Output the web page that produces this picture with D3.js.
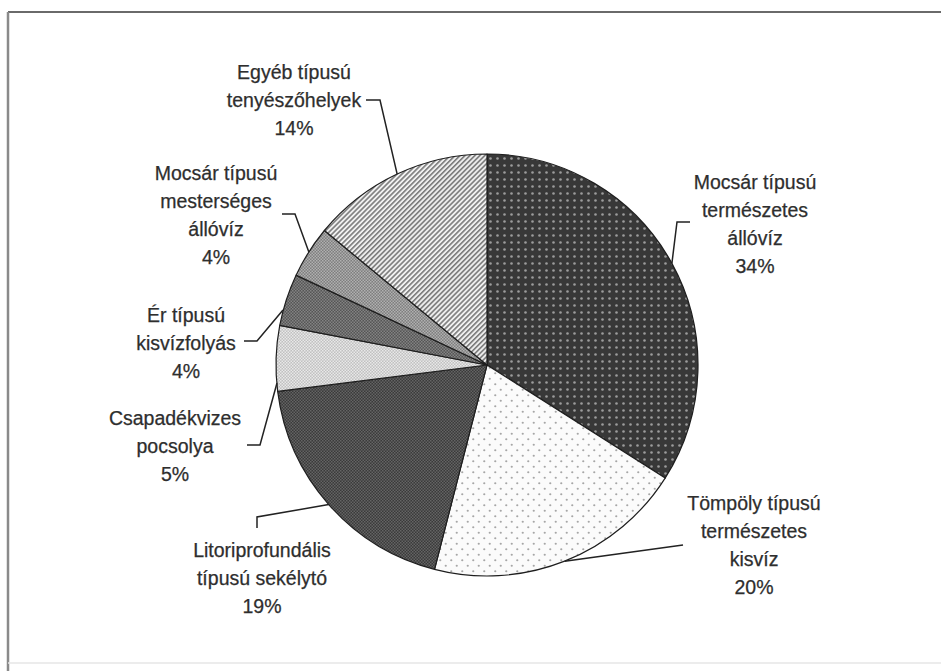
<!DOCTYPE html>
<html><head><meta charset="utf-8">
<script src="https://cdn.jsdelivr.net/npm/d3@7"></script>
<style>html,body{margin:0;padding:0;background:#fff;}svg{display:block;}</style>
</head><body>
<svg id="c" width="941" height="671"></svg>
<script>
// Data
const categories = [
  "Mocsár típusú természetes állóvíz",
  "Tömpöly típusú természetes kisvíz",
  "Litoriprofundális típusú sekélytó",
  "Csapadékvizes pocsolya",
  "Ér típusú kisvízfolyás",
  "Mocsár típusú mesterséges állóvíz",
  "Egyéb típusú tenyészőhelyek"
];
const values = [34, 20, 19, 5, 4, 4, 14];
const labelLines = [
  ["Mocsár típusú", "természetes", "állóvíz"],
  ["Tömpöly típusú", "természetes", "kisvíz"],
  ["Litoriprofundális", "típusú sekélytó"],
  ["Csapadékvizes", "pocsolya"],
  ["Ér típusú", "kisvízfolyás"],
  ["Mocsár típusú", "mesterséges", "állóvíz"],
  ["Egyéb típusú", "tenyészőhelyek"]
];

// Layout (first-line baselines)
const cx = 487, cy = 365, R = 211;
const labelPos = [
  {x: 755, y: 189}, {x: 754, y: 510}, {x: 262, y: 557}, {x: 175, y: 425},
  {x: 186, y: 322}, {x: 216, y: 180}, {x: 294, y: 79}
];
const lineH = 28;
const leaders = [
  [[690, 222], [677, 222]],
  [[683, 545]],
  [[257, 528], [257, 517]],
  [[247, 445], [260, 445]],
  [[244, 341], [257, 341]],
  [[282, 214], [295, 214]],
  [[366, 100], [380, 100]]
];
const leaderEnd = [null, null, null, [277, 383], [283, 310], null, null];

const svg = d3.select("#c");
const defs = svg.append("defs");

function checker(id, bg, fg, s) {
  const p = defs.append("pattern").attr("id", id).attr("patternUnits", "userSpaceOnUse")
    .attr("width", s * 2).attr("height", s * 2);
  p.append("rect").attr("width", s * 2).attr("height", s * 2).attr("fill", bg);
  p.append("rect").attr("width", s).attr("height", s).attr("fill", fg);
  p.append("rect").attr("x", s).attr("y", s).attr("width", s).attr("height", s).attr("fill", fg);
}
function grid(id, bg, fg, s, r) {
  const p = defs.append("pattern").attr("id", id).attr("patternUnits", "userSpaceOnUse")
    .attr("width", s).attr("height", s);
  p.append("rect").attr("width", s).attr("height", s).attr("fill", bg);
  p.append("circle").attr("cx", s / 2).attr("cy", s / 2).attr("r", r).attr("fill", fg);
}
function dots(id, bg, fg, s, r) {
  const p = defs.append("pattern").attr("id", id).attr("patternUnits", "userSpaceOnUse")
    .attr("width", s).attr("height", s);
  p.append("rect").attr("width", s).attr("height", s).attr("fill", bg);
  p.append("circle").attr("cx", s / 4).attr("cy", s / 4).attr("r", r).attr("fill", fg);
  p.append("circle").attr("cx", s * 3 / 4).attr("cy", s * 3 / 4).attr("r", r).attr("fill", fg);
}
grid("p0", "#383838", "#9c9c9c", 7, 1.3);
dots("p1", "#fbfbfb", "#a6a6a6", 11, 1.1);
checker("p2", "#3a3a3a", "#646464", 1.5);
checker("p3", "#c0c0c0", "#e8e8e8", 1.5);
checker("p4", "#555555", "#838383", 1.5);
checker("p5", "#7e7e7e", "#b0b0b0", 1.5);
{
  const p = defs.append("pattern").attr("id", "p6").attr("patternUnits", "userSpaceOnUse")
    .attr("width", 3.5).attr("height", 3.5).attr("patternTransform", "rotate(45)");
  p.append("rect").attr("width", 3.5).attr("height", 3.5).attr("fill", "#f0f0f0");
  p.append("rect").attr("width", 1.6).attr("height", 3.5).attr("fill", "#7a7a7a");
}

// Frame
svg.append("line").attr("x1", 8).attr("y1", 12).attr("x2", 941).attr("y2", 12)
  .attr("stroke", "#6a6a6a").attr("stroke-width", 2);
svg.append("line").attr("x1", 8).attr("y1", 12).attr("x2", 8).attr("y2", 671)
  .attr("stroke", "#8a8a8a").attr("stroke-width", 2.5);
svg.append("line").attr("x1", 8).attr("y1", 663).attr("x2", 941).attr("y2", 663)
  .attr("stroke", "#e6e6e6").attr("stroke-width", 1.5);

const pie = d3.pie().sort(null).value(d => d)(values);
const arc = d3.arc().innerRadius(0).outerRadius(R);
const g = svg.append("g").attr("transform", `translate(${cx},${cy})`);
g.selectAll("path.slice").data(pie).join("path").attr("class", "slice")
  .attr("d", arc).attr("fill", (d, i) => `url(#p${i})`)
  .attr("stroke", "#1e1e1e").attr("stroke-width", 1.2).attr("stroke-linejoin", "round");

// Leader lines
pie.forEach((d, i) => {
  const a = (d.startAngle + d.endAngle) / 2;
  let end = [cx + R * Math.sin(a), cy - R * Math.cos(a)];
  if (leaderEnd[i]) end = leaderEnd[i];
  const pts = leaders[i].concat([end]);
  svg.append("path").attr("d", d3.line()(pts)).attr("fill", "none")
    .attr("stroke", "#222").attr("stroke-width", 1.5);
});

// Labels
const fmt = d3.format(".0%");
const total = d3.sum(values);
labelLines.forEach((lines, i) => {
  const all = lines.concat([fmt(values[i] / total)]);
  const t = svg.append("text").attr("text-anchor", "middle")
    .attr("font-family", "Liberation Sans, Arial, sans-serif").attr("font-size", 19.5)
    .attr("fill", "#2e2e2e").attr("stroke", "#2e2e2e").attr("stroke-width", 0.25);
  all.forEach((s, k) => {
    t.append("tspan").attr("x", labelPos[i].x).attr("y", labelPos[i].y + k * lineH).text(s);
  });
});
</script>
</body></html>
